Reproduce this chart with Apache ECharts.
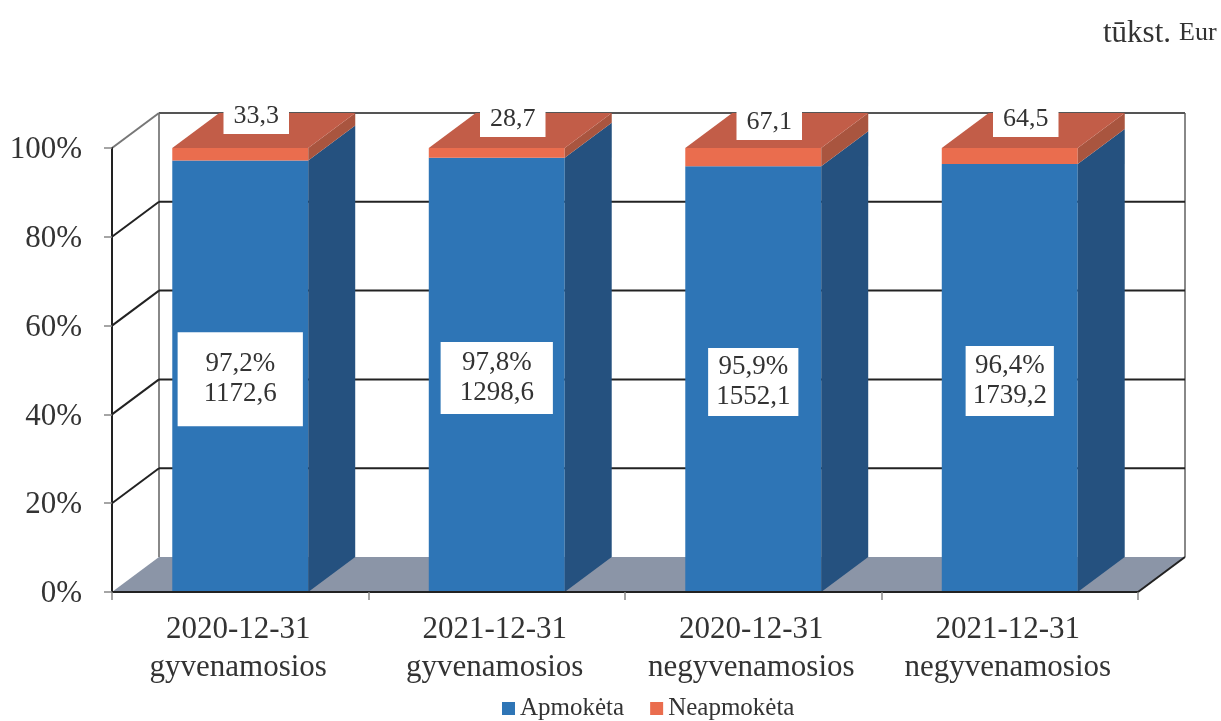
<!DOCTYPE html>
<html><head><meta charset="utf-8">
<style>html,body{margin:0;padding:0;background:#fff}#c{width:1221px;height:721px}</style>
<script src="https://cdn.jsdelivr.net/npm/echarts@6/dist/echarts.min.js"></script>
</head><body><div id="c"></div>
<script>
const categories = ['2020-12-31\ngyvenamosios','2021-12-31\ngyvenamosios','2020-12-31\nnegyvenamosios','2021-12-31\nnegyvenamosios'];
const paidPct = [97.2, 97.8, 95.9, 96.4];
const unpaidPct = [2.8, 2.2, 4.1, 3.6];
const paidValue = [1172.6, 1298.6, 1552.1, 1739.2];
const unpaidValue = [33.3, 28.7, 67.1, 64.5];
const yTicks = [0, 20, 40, 60, 80, 100];
const seriesNames = ['Apmokėta', 'Neapmokėta'];

const DX = 47, DY = 35, FONT = 'Liberation Serif', INK = '#333';
const inner = [[17,26],[6,19],[4,8],[5,7]];
const topShift = [-32,-29,-26,-29];
const fmt = v => v.toFixed(1).replace('.', ',');

function renderWall(params, api) {
  const v = api.value(1), y = api.coord([0, v])[1];
  const cs = params.coordSys, L = cs.x, R = cs.x + cs.width, kids = [];
  const dark = v === 100 ? '#777' : '#222';
  if (v === 0) {
    kids.push({type:'polygon', shape:{points:[[L,y],[R,y],[R+DX,y-DY],[L+DX,y-DY]]}, style:{fill:'#8b95a7'}});
    kids.push({type:'line', shape:{x1:L+DX,y1:y-DY,x2:L+DX,y2:cs.y-DY}, style:{stroke:'#888',lineWidth:2}});
    kids.push({type:'line', shape:{x1:R+DX,y1:y-DY,x2:R+DX,y2:cs.y-DY}, style:{stroke:'#888',lineWidth:2}});
    kids.push({type:'line', shape:{x1:R,y1:y,x2:R+DX,y2:y-DY}, style:{stroke:'#222',lineWidth:2}});
  } else {
    kids.push({type:'line', shape:{x1:L+DX,y1:y-DY,x2:R+DX,y2:y-DY}, style:{stroke:v===100?'#555':'#222',lineWidth:2}});
    kids.push({type:'line', shape:{x1:L,y1:y,x2:L+DX,y2:y-DY}, style:{stroke:dark,lineWidth:2}});
  }
  return {type:'group', children:kids};
}

function block(api, front, side, top) {
  const i = api.value(0), w = api.size([1,0])[0] * 0.53;
  const c = api.coord([i, api.value(1)]), d = api.coord([i, api.value(2)]);
  const x0 = c[0]-w/2, x1 = c[0]+w/2, yb = c[1], yt = d[1];
  const kids = [
    {type:'rect', shape:{x:x0,y:yt,width:w,height:yb-yt}, style:{fill:front}},
    {type:'polygon', shape:{points:[[x1,yb],[x1+DX,yb-DY],[x1+DX,yt-DY],[x1,yt]]}, style:{fill:side}}
  ];
  if (top) kids.push({type:'polygon', shape:{points:[[x0,yt],[x1,yt],[x1+DX,yt-DY],[x0+DX,yt-DY]]}, style:{fill:top}});
  return {kids, cx:c[0]};
}

function renderPaid(params, api) {
  const b = block(api, '#2e75b6', '#25517f', null);
  const p = api.coord([0, api.value(2)/2])[1] + 3;
  b.kids.push({type:'text', style:{x:b.cx, y:p, text:fmt(api.value(2))+'%\n'+fmt(api.value(3)),
    fill:INK, fontFamily:FONT, fontSize:27, lineHeight:30, align:'center', verticalAlign:'middle',
    backgroundColor:'#fff', padding:inner[params.dataIndex]}});
  return {type:'group', children:b.kids};
}

function renderUnpaid(params, api) {
  const b = block(api, '#ea6d4e', '#a9553f', '#c25d48');
  const y = api.coord([0, 100])[1] + topShift[params.dataIndex];
  b.kids.push({type:'text', style:{x:b.cx+16, y:y, text:fmt(api.value(3)),
    fill:INK, fontFamily:FONT, fontSize:26, lineHeight:30, align:'center', verticalAlign:'middle',
    backgroundColor:'#fff', padding:[3,10]}});
  return {type:'group', children:b.kids};
}

const chart = echarts.init(document.getElementById('c'), null, {renderer:'canvas'});
chart.setOption({
  backgroundColor:'#fff',
  animation:false,
  title:{left:1098, top:13, text:'{a|tūkst.} {b|Eur}',
    textStyle:{fontWeight:'normal',rich:{a:{fontFamily:FONT,fontSize:31,color:INK,fontWeight:'normal'},b:{fontFamily:FONT,fontSize:26,color:INK,fontWeight:'normal',padding:[0,0,0,3]}}}},
  legend:{left:497, top:691, itemWidth:13, itemHeight:13, itemGap:26, icon:'rect', selectedMode:false,
    data:seriesNames, textStyle:{fontFamily:FONT,fontSize:25,color:INK}},
  grid:{left:112, top:148, width:1026, height:444},
  xAxis:{type:'category', data:categories, z:5,
    axisLine:{lineStyle:{color:'#222',width:2}},
    axisTick:{show:true,length:8,lineStyle:{color:'#888',width:1.5}},
    axisLabel:{fontFamily:FONT,fontSize:31,lineHeight:38,color:INK,margin:19,interval:0,padding:[0,4,0,0]}},
  yAxis:{type:'value', min:0, max:100, interval:20, z:5,
    axisLine:{show:true,lineStyle:{color:'#222',width:2}},
    axisTick:{show:true,length:8,lineStyle:{color:'#888',width:1.5}},
    splitLine:{show:false},
    axisLabel:{color:INK,margin:30,formatter:'{t|{value}%}',
      rich:{t:{fontFamily:FONT,fontSize:31,color:INK,padding:[4,0,0,0]}}}},
  series:[
    {type:'custom', name:'walls', z:1, silent:true, renderItem:renderWall,
     encode:{x:0,y:1}, data:yTicks.map(t=>[0,t])},
    {type:'custom', name:seriesNames[0], z:2, itemStyle:{color:'#2e75b6'}, renderItem:renderPaid,
     encode:{x:0,y:[1,2]}, data:paidPct.map((v,i)=>[i,0,v,paidValue[i]])},
    {type:'custom', name:seriesNames[1], z:3, itemStyle:{color:'#ea6d4e'}, renderItem:renderUnpaid,
     encode:{x:0,y:[1,2]}, data:unpaidPct.map((v,i)=>[i,paidPct[i],paidPct[i]+v,unpaidValue[i]])}
  ]
});
</script></body></html>
